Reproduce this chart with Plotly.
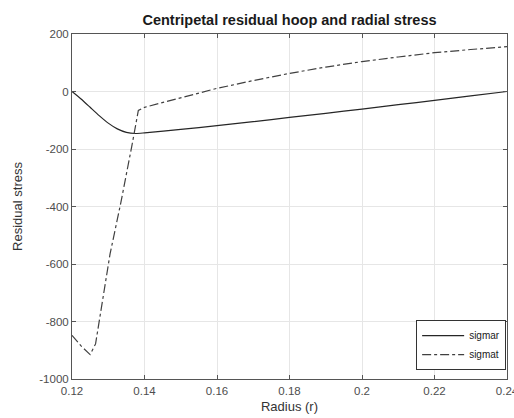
import plotly.graph_objects as go

r_sigmar = [0.12, 0.1225, 0.125, 0.1275, 0.13, 0.1325, 0.135, 0.1375, 0.14, 0.15, 0.16, 0.17, 0.18, 0.19, 0.20, 0.21, 0.22, 0.23, 0.24]
sigmar = [0, -26, -55, -84, -110, -130, -142, -146, -144, -132, -119, -105, -90, -76, -61, -46, -31, -15, 0]

r_sigmat = [0.12, 0.1225, 0.125, 0.1265, 0.1305, 0.1335, 0.1365, 0.1383, 0.14, 0.15, 0.16, 0.17, 0.18, 0.19, 0.20, 0.21, 0.22, 0.23, 0.24]
sigmat = [-848, -885, -915, -878, -565, -385, -190, -66, -55, -22, 11, 38, 63, 85, 104, 120, 135, 146, 156]

x_ticks = [0.12, 0.14, 0.16, 0.18, 0.2, 0.22, 0.24]
x_tick_labels = ["0.12", "0.14", "0.16", "0.18", "0.2", "0.22", "0.24"]
y_ticks = [-1000, -800, -600, -400, -200, 0, 200]
y_tick_labels = ["-1000", "-800", "-600", "-400", "-200", "0", "200"]

FONT = "Liberation Sans, Arial, Helvetica"

fig = go.Figure()
fig.add_trace(go.Scatter(x=r_sigmar, y=sigmar, mode="lines", name="sigmar",
                         line=dict(color="#262626", width=1.2, shape="spline", smoothing=0.6)))
fig.add_trace(go.Scatter(x=r_sigmat, y=sigmat, mode="lines", name="sigmat",
                         line=dict(color="#404040", width=1.2, dash="dashdot")))

axis_common = dict(showline=True, linecolor="#555555", linewidth=1, mirror="ticks",
                   ticks="inside", ticklen=4, tickcolor="#555555",
                   showgrid=True, gridcolor="#e6e6e6", gridwidth=1, zeroline=False,
                   automargin=False, ticklabeloverflow="allow",
                   tickfont=dict(family=FONT, size=11.5, color="#4d4d4d"))

fig.update_layout(
    width=514, height=418,
    margin=dict(l=72, r=7, t=34, b=39),
    paper_bgcolor="white", plot_bgcolor="white",
    title=dict(text="<b>Centripetal residual hoop and radial stress</b>",
               xref="paper", x=0.5, xanchor="center",
               yref="container", y=1 - 19.5 / 418, yanchor="middle",
               font=dict(family=FONT, size=14.5, color="#1a1a1a")),
    xaxis=dict(range=[0.12, 0.24], tickvals=x_ticks, ticktext=x_tick_labels,
               ticklabelstandoff=1,
               title=dict(text="Radius (r)", standoff=6,
                          font=dict(family=FONT, size=13, color="#333333")),
               **axis_common),
    yaxis=dict(range=[-1000, 200], tickvals=y_ticks, ticktext=y_tick_labels,
               title=dict(text="Residual stress", standoff=13,
                          font=dict(family=FONT, size=13, color="#333333")),
               **axis_common),
    legend=dict(x=0.998, y=0.026, xanchor="right", yanchor="bottom",
                bordercolor="#333333", borderwidth=1, bgcolor="white",
                font=dict(family=FONT, size=10, color="#1a1a1a"),
                itemwidth=42, tracegroupgap=0),
    showlegend=True,
)

fig.write_html("out.html", config={"displayModeBar": False},
               post_script="document.body.style.margin='0px';")
